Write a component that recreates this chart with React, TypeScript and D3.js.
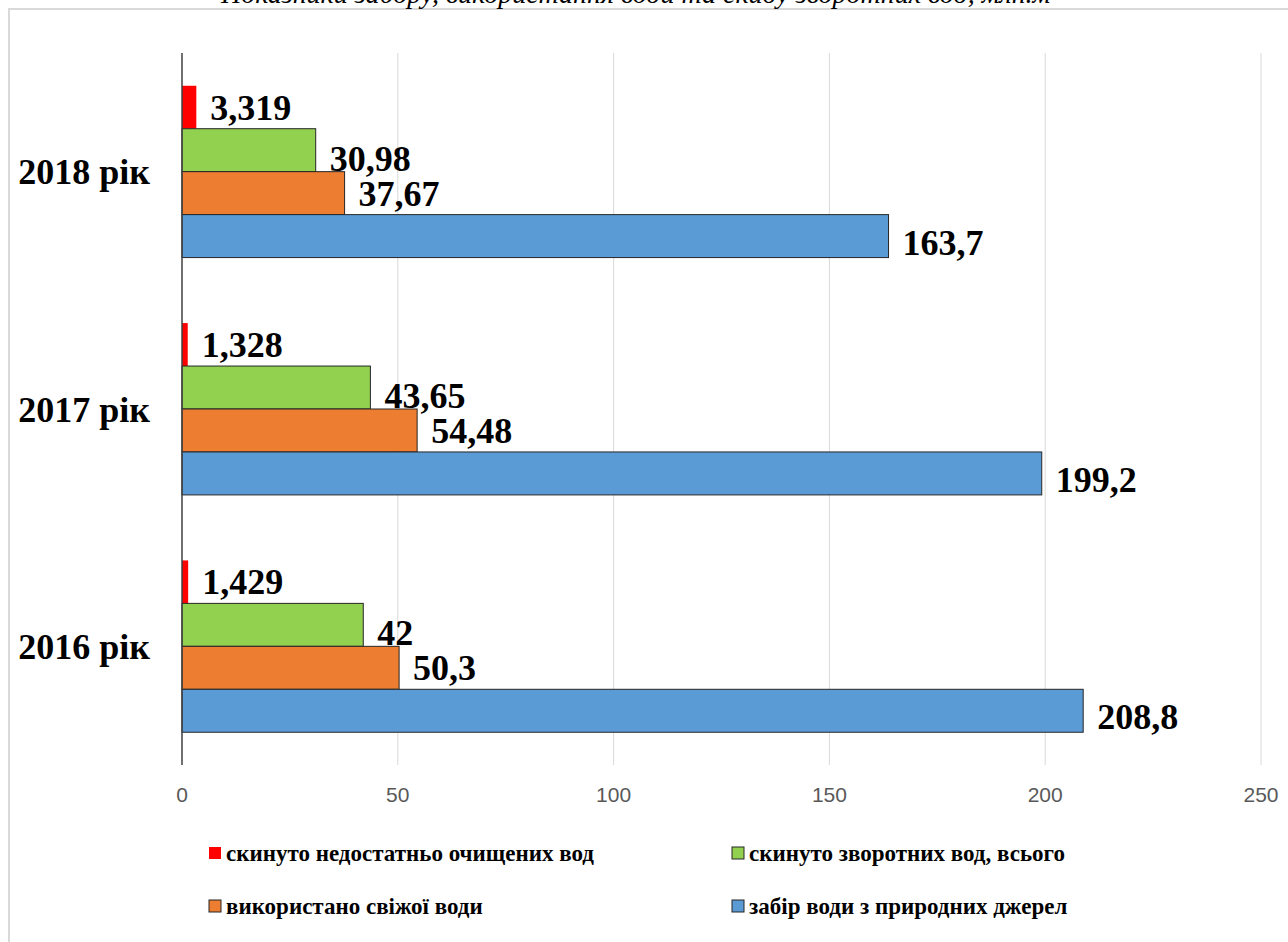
import React from "react";
import * as d3 from "d3";

const categories = ["2018 рік", "2017 рік", "2016 рік"];
const seriesNames = [
  "скинуто недостатньо очищених вод",
  "скинуто зворотних вод, всього",
  "використано свіжої води",
  "забір води з природних джерел",
];
const seriesColors = ["#ff0000", "#92d050", "#ed7d31", "#5b9bd5"];
// values per category (same order as categories), per series
const undertreated = [3.319, 1.328, 1.429];
const returnWater = [30.98, 43.65, 42];
const freshUsed = [37.67, 54.48, 50.3];
const intake = [163.7, 199.2, 208.8];
const labelTexts = [
  ["3,319", "1,328", "1,429"],
  ["30,98", "43,65", "42"],
  ["37,67", "54,48", "50,3"],
  ["163,7", "199,2", "208,8"],
];
const xTicks = [0, 50, 100, 150, 200, 250];
const title = "Показники забору, використання води та скиду зворотних вод, млн.м³";

const W = 1288;
const H = 942;

export default function App() {
  const series = [undertreated, returnWater, freshUsed, intake];
  const x = d3.scaleLinear().domain([0, 250]).range([182, 1261]);
  const y = d3.scaleBand().domain(categories).range([53, 765]).paddingInner(0.276).paddingOuter(0.138);
  const inner = d3
    .scaleBand<number>()
    .domain(d3.range(series.length))
    .range([0, y.bandwidth()])
    .padding(0);
  const labelDy = [0, 8, 0, 6];
  const labelDx = [14, 14, 14, 14];
  const serif = "'Liberation Serif', 'Times New Roman', serif";
  const sans = "'Liberation Sans', Arial, sans-serif";

  const legendPos = [
    [209, 847],
    [732, 847],
    [209, 900],
    [732, 900],
  ];

  return (
    <svg
      width={W}
      height={H}
      style={{ position: "absolute", left: 0, top: 0, display: "block", background: "#fff" }}
    >
      <rect x={9} y={9} width={1400} height={1100} fill="#fff" stroke="#d9d9d9" strokeWidth={2} />
      <text
        x={640}
        y={3}
        textAnchor="middle"
        fontFamily={serif}
        fontStyle="italic"
        fontSize={28}
        fill="#000"
      >
        {title}
      </text>
      {/* gridlines */}
      {xTicks.slice(1).map((t) => (
        <line key={t} x1={x(t)} x2={x(t)} y1={53} y2={765} stroke="#d9d9d9" strokeWidth={1} />
      ))}
      {/* bars */}
      {categories.map((c, ci) => (
        <g key={c}>
          {series.map((vals, si) => (
            <rect
              key={si}
              x={x(0)}
              y={(y(c) as number) + (inner(si) as number)}
              width={x(vals[ci]) - x(0)}
              height={inner.bandwidth()}
              fill={seriesColors[si]}
              stroke={si === 0 ? "none" : "#262626"}
              strokeWidth={1}
            />
          ))}
        </g>
      ))}
      {/* axis line */}
      <line x1={x(0)} x2={x(0)} y1={53} y2={765} stroke="#404040" strokeWidth={1.5} />
      {/* value labels */}
      {categories.map((c, ci) => (
        <g key={"l" + c}>
          {series.map((vals, si) => (
            <text
              key={si}
              x={x(vals[ci]) + labelDx[si]}
              y={(y(c) as number) + (inner(si) as number) + inner.bandwidth() / 2 + labelDy[si]}
              dy="0.35em"
              fontFamily={serif}
              fontWeight="bold"
              fontSize={36}
              fill="#000"
            >
              {labelTexts[si][ci]}
            </text>
          ))}
        </g>
      ))}
      {/* category labels */}
      {categories.map((c) => (
        <text
          key={"c" + c}
          x={150}
          y={(y(c) as number) + y.bandwidth() / 2}
          dy="0.35em"
          textAnchor="end"
          fontFamily={serif}
          fontWeight="bold"
          fontSize={36}
          fill="#000"
        >
          {c}
        </text>
      ))}
      {/* x tick labels */}
      {xTicks.map((t) => (
        <text
          key={"t" + t}
          x={x(t)}
          y={802}
          textAnchor="middle"
          fontFamily={sans}
          fontSize={21}
          fill="#595959"
        >
          {t}
        </text>
      ))}
      {/* legend */}
      {seriesNames.map((n, i) => (
        <g key={n} transform={`translate(${legendPos[i][0]},${legendPos[i][1]})`}>
          <rect
            x={0}
            y={0}
            width={12}
            height={12}
            fill={seriesColors[i]}
            stroke={i === 0 ? "none" : "#262626"}
            strokeWidth={1}
          />
          <text x={17} y={6} dy="0.35em" fontFamily={serif} fontWeight="bold" fontSize={23} fill="#000">
            {n}
          </text>
        </g>
      ))}
    </svg>
  );
}
